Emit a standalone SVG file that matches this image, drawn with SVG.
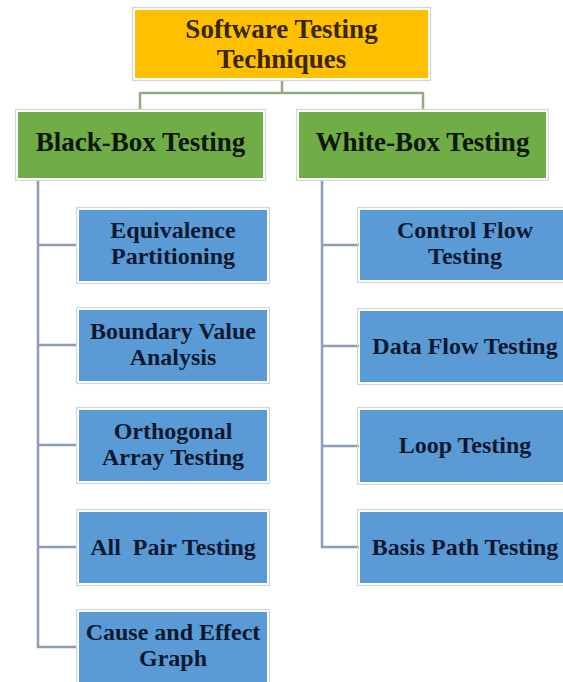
<svg xmlns="http://www.w3.org/2000/svg" width="563" height="682" viewBox="0 0 563 682">
<style>
.frame{fill:none;stroke:#d2d7dc;stroke-width:1.2}
.gold{fill:#ffc000}
.green{fill:#70ad47}
.blue{fill:#5b9bd5}
text{font-family:"Liberation Serif","Times New Roman",serif;font-weight:bold;text-anchor:middle}
.t1{font-size:27px;fill:#3a2604}
.t2{font-size:27px;fill:#0c1606}
.t3{font-size:24px;fill:#0b1830}
.cg{fill:none;stroke:#93ab84;stroke-width:2.5}
.cb{fill:none;stroke:#8d9db8;stroke-width:2.5}
</style>
<rect width="563" height="682" fill="#ffffff"/>
<g id="connectors">
<path class="cg" d="M282 80V93M140 93H423M140 92V110M423 92V110"/>
<path class="cb" d="M38 181V647H77M38 245H77M38 345H77M38 445H77M38 547H77"/>
<path class="cb" d="M322 181V547H359M322 245H359M322 346H359M322 446H359"/>
</g>
<g id="root">
<rect class="frame" x="132.5" y="7.5" width="298" height="73"/>
<rect class="gold" x="135" y="10" width="293" height="68"/>
<text class="t1" x="281.5" y="38">Software Testing</text>
<text class="t1" x="281.5" y="68">Techniques</text>
</g>
<g id="blackbox">
<rect class="frame" x="15.5" y="109.5" width="250" height="71"/>
<rect class="green" x="18" y="112" width="245" height="66"/>
<text class="t2" x="140.5" y="151">Black-Box Testing</text>
</g>
<g id="whitebox">
<rect class="frame" x="296.5" y="109.5" width="252" height="71"/>
<rect class="green" x="299" y="112" width="247" height="66"/>
<text class="t2" x="422.5" y="151">White-Box Testing</text>
</g>
<g id="equivalence">
<rect class="frame" x="76.5" y="207.5" width="193" height="76"/>
<rect class="blue" x="79" y="210" width="188" height="71"/>
<text class="t3" x="173" y="238">Equivalence</text>
<text class="t3" x="173" y="264">Partitioning</text>
</g>
<g id="boundary">
<rect class="frame" x="76.5" y="307.5" width="193" height="76"/>
<rect class="blue" x="79" y="310" width="188" height="71"/>
<text class="t3" x="173" y="339">Boundary Value</text>
<text class="t3" x="173" y="365">Analysis</text>
</g>
<g id="orthogonal">
<rect class="frame" x="76.5" y="407.5" width="193" height="76"/>
<rect class="blue" x="79" y="410" width="188" height="71"/>
<text class="t3" x="173" y="439">Orthogonal</text>
<text class="t3" x="173" y="465">Array Testing</text>
</g>
<g id="allpair">
<rect class="frame" x="76.5" y="509.5" width="193" height="76"/>
<rect class="blue" x="79" y="512" width="188" height="71"/>
<text class="t3" x="173" y="555" xml:space="preserve">All  Pair Testing</text>
</g>
<g id="causeeffect">
<rect class="frame" x="76.5" y="609.5" width="193" height="76"/>
<rect class="blue" x="79" y="612" width="188" height="71"/>
<text class="t3" x="173" y="640">Cause and Effect</text>
<text class="t3" x="173" y="666">Graph</text>
</g>
<g id="controlflow">
<rect class="frame" x="357.5" y="207.5" width="215" height="75"/>
<rect class="blue" x="360" y="210" width="210" height="70"/>
<text class="t3" x="465" y="238">Control Flow</text>
<text class="t3" x="465" y="264">Testing</text>
</g>
<g id="dataflow">
<rect class="frame" x="357.5" y="308.5" width="215" height="76"/>
<rect class="blue" x="360" y="311" width="210" height="71"/>
<text class="t3" x="465" y="354">Data Flow Testing</text>
</g>
<g id="loop">
<rect class="frame" x="357.5" y="407.5" width="215" height="77"/>
<rect class="blue" x="360" y="410" width="210" height="72"/>
<text class="t3" x="465" y="453">Loop Testing</text>
</g>
<g id="basispath">
<rect class="frame" x="357.5" y="509.5" width="215" height="76"/>
<rect class="blue" x="360" y="512" width="210" height="71"/>
<text class="t3" x="465" y="555">Basis Path Testing</text>
</g>
</svg>
